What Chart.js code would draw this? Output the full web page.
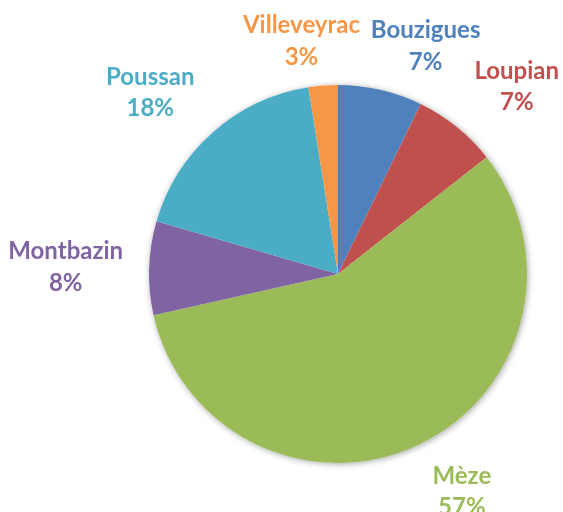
<!DOCTYPE html>
<html>
<head>
<meta charset="utf-8">
<script src="https://cdn.jsdelivr.net/npm/chart.js@4"></script>
<style>
	html, body { margin: 0; padding: 0; background: #fff; }
	#wrap { width: 563px; height: 512px; }
</style>
</head>
<body>
<div id="wrap"><canvas id="Chart1" width="563" height="512"></canvas></div>
<script>
// data
const towns = ['Bouzigues', 'Loupian', 'Mèze', 'Montbazin', 'Poussan', 'Villeveyrac'];
const shares = [7.2, 7.2, 57.1, 8, 18, 2.5];
const sliceColors = ['#4F81BD', '#C0504D', '#9BBB59', '#8064A2', '#4BACC6', '#F79646'];

const FONT = 'bold 24px Lato';
const LINE_H = 31.5;
const GAP = 22;
const BOX_PAD = 4;

// white disc with a soft shadow under the slices
const pieShadow = {
	id: 'pieShadow',
	beforeDatasetsDraw(chart) {
		const arc = chart.getDatasetMeta(0).data[0];
		if (!arc) return;
		const ctx = chart.ctx;
		ctx.save();
		ctx.shadowColor = 'rgba(0,0,0,0.35)';
		ctx.shadowBlur = 6;
		ctx.shadowOffsetX = 1;
		ctx.shadowOffsetY = 1;
		ctx.fillStyle = '#fff';
		ctx.beginPath();
		ctx.arc(arc.x, arc.y, arc.outerRadius, 0, Math.PI * 2);
		ctx.fill();
		ctx.restore();
	}
};

const clamp = v => Math.max(-1, Math.min(1, v));

// labels outside the pie: a corner of the label box sits on the mid-angle ray,
// boxes that collide are turned apart along the circle
const outsideLabels = {
	id: 'outsideLabels',
	afterDatasetsDraw(chart) {
		const ctx = chart.ctx;
		const meta = chart.getDatasetMeta(0);
		const total = shares.reduce((a, b) => a + b, 0);
		ctx.save();
		ctx.font = FONT;
		const items = meta.data.map((arc, i) => {
			const pct = Math.round(shares[i] / total * 100) + '%';
			const w = Math.max(ctx.measureText(towns[i]).width, ctx.measureText(pct).width);
			return {
				i, pct, w, h: 50,
				a: (arc.startAngle + arc.endAngle) / 2,
				cx: arc.x, cy: arc.y, r: arc.outerRadius
			};
		});
		const place = it => {
			const s = Math.cos(it.a), c = Math.sin(it.a);
			const d = it.r + GAP;
			it.x = it.cx + s * d + (it.w / 2 + BOX_PAD) * clamp(2.5 * s);
			it.y = it.cy + c * d + it.h / 2 * clamp(2.5 * c);
		};
		const hits = (p, q) => {
			const pad = 10, hh = 18;
			return Math.abs(p.x - q.x) < (p.w + q.w) / 2 + pad && Math.abs(p.y - q.y) < hh * 2;
		};
		items.forEach(place);
		const step = 0.003;
		for (let k = 0; k < 500; k++) {
			let moved = false;
			for (let i = 0; i < items.length; i++) {
				for (let j = i + 1; j < items.length; j++) {
					const p = items[i], q = items[j];
					if (!hits(p, q)) continue;
					let diff = q.a - p.a;
					while (diff > Math.PI) diff -= 2 * Math.PI;
					while (diff < -Math.PI) diff += 2 * Math.PI;
					if (diff > 0) { p.a -= step; q.a += step; }
					else { p.a += step; q.a -= step; }
					place(p); place(q);
					moved = true;
				}
			}
			if (!moved) break;
		}
		ctx.textAlign = 'center';
		ctx.textBaseline = 'middle';
		items.forEach(it => {
			ctx.fillStyle = sliceColors[it.i];
			ctx.fillText(towns[it.i], it.x, it.y + 2 - LINE_H / 2);
			ctx.fillText(it.pct, it.x, it.y + 2 + LINE_H / 2);
		});
		ctx.restore();
	}
};

const ctx = document.getElementById('Chart1');
const myChart = new Chart(ctx, {
	type: 'pie',
	data: {
		labels: towns,
		datasets: [{
			data: shares,
			backgroundColor: sliceColors,
			borderWidth: 0
		}]
	},
	options: {
		responsive: false,
		animation: false,
		layout: {
			padding: { left: 149, right: 36, top: 85, bottom: 49 }
		},
		plugins: {
			legend: { display: false },
			tooltip: { enabled: false }
		}
	},
	plugins: [pieShadow, outsideLabels]
});
</script>
</body>
</html>
